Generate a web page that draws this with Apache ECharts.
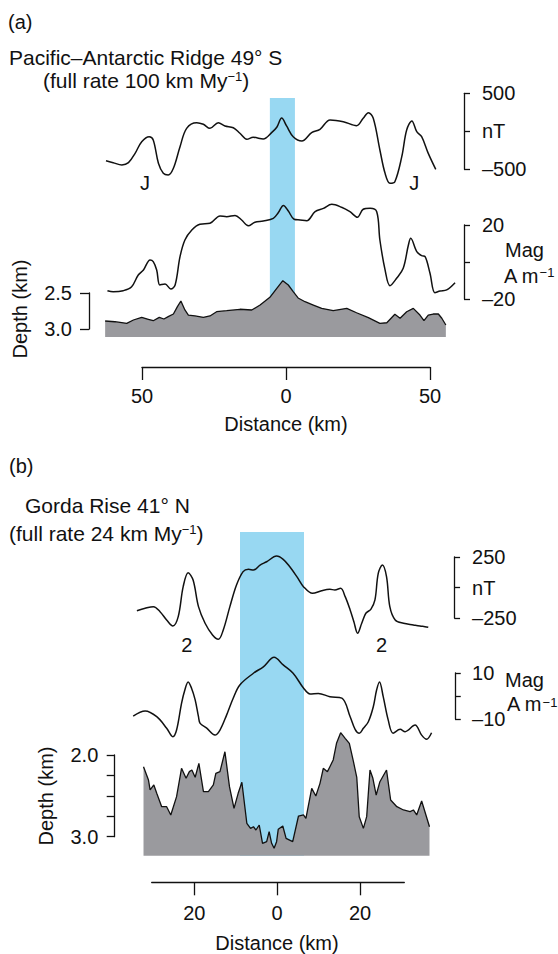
<!DOCTYPE html>
<html><head><meta charset="utf-8">
<script src="https://cdn.jsdelivr.net/npm/echarts@6/dist/echarts.min.js"></script>
<style>html,body{margin:0;padding:0;background:#fff}#c{width:558px;height:954px}</style>
</head><body><div id="c"></div>
<script>
// ---------- Panel (a) Pacific–Antarctic Ridge ----------
const aMagKm = [-62.5,-60.0,-57.0,-54.7,-52.4,-50.1,-47.5,-46.1,-44.3,-42.6,-40.9,-39.1,-36.8,-34.5,-31.0,-28.7,-26.4,-23.5,-21.2,-18.3,-16.0,-13.6,-11.4,-7.9,-5.0,-3.2,-1.5,0.2,2.5,5.5,8.9,11.8,15.3,19.9,24.5,26.8,28.6,30.3,32.6,34.4,36.1,37.8,40.2,41.9,43.7,45.4,47.1,49.4,52.0];
const aMagNT = [-387,-413,-443,-413,-290,-137,-71,-114,-421,-553,-575,-487,-203,39,113,92,39,113,70,47,-26,-105,-79,-101,-18,53,175,70,-71,-128,-18,26,149,126,74,171,245,171,-246,-553,-684,-663,-334,17,136,-5,-71,-290,-500];
const aMzKm = [-62.0,-60.0,-56.5,-53.6,-51.3,-49.5,-47.2,-46.1,-44.9,-43.8,-42.0,-40.0,-38.5,-36.8,-35.1,-32.7,-29.9,-26.4,-22.9,-20.6,-17.7,-15.4,-13.1,-10.8,-7.9,-4.4,-2.7,-0.9,0.8,2.8,4.9,7.2,10.1,13.0,15.9,19.3,22.2,24.8,26.8,29.2,31.5,32.6,34.4,36.1,38.4,40.7,42.5,43.3,45.4,47.1,48.3,50.0,51.7,53.5,55.8,58.7];
const aMzAm = [-15.5,-16.1,-15.5,-13.4,-7.0,-4.3,1.1,0.2,-4.3,-12.4,-11.9,-14.6,-12.4,2.9,11.9,17.3,20.4,20.9,24.9,24.5,25.2,22.7,19.6,21.5,22.2,23.6,26.6,30.6,27.6,23.1,22.7,22.3,27.2,29.0,31.2,29.6,27.2,24.2,28.5,29.0,27.2,11.9,-4.3,-12.8,-8.8,-3.4,9.2,12.8,5.6,3.4,2.9,-6.1,-16.6,-15.7,-15.1,-11.2];
const aBathKm = [-62.8,-59.4,-55.3,-53.0,-50.1,-47.8,-46.1,-44.0,-42.4,-40.9,-39.1,-37.7,-36.5,-35.1,-33.9,-31.6,-28.7,-26.4,-24.1,-20.6,-16.0,-11.9,-9.0,-5.6,-3.2,-1.1,0.8,2.5,4.2,6.6,9.5,12.4,16.4,21.1,24.5,28.6,32.6,35.0,37.8,39.6,41.9,44.2,46.5,47.9,49.4,51.1,52.9,54.1,55.5];
const aBathDepth = [2.889,2.899,2.921,2.875,2.838,2.865,2.885,2.838,2.861,2.829,2.792,2.690,2.611,2.736,2.806,2.819,2.838,2.819,2.760,2.746,2.726,2.736,2.667,2.560,2.435,2.329,2.389,2.482,2.569,2.621,2.667,2.713,2.746,2.713,2.774,2.843,2.921,2.913,2.796,2.851,2.760,2.713,2.806,2.885,2.806,2.792,2.792,2.851,2.944];
const aBand = [-5.6, 3.1];
const aAnomalyKm = [-49.0, 44.5];
const aAnomalyNT = [-680, -680];
const aAnomalyName = 'J';

// ---------- Panel (b) Gorda Rise ----------
const bMagKm = [-33.9,-31.9,-29.9,-28.3,-26.7,-25.2,-23.9,-22.7,-21.5,-20.3,-19.0,-17.4,-15.6,-14.2,-13.0,-11.4,-9.8,-8.2,-6.9,-5.7,-4.1,-2.5,-0.1,1.5,3.1,4.8,6.4,8.6,10.8,12.8,14.0,15.4,16.5,17.7,18.6,19.5,20.5,21.5,22.7,23.7,24.5,25.5,26.5,27.3,28.6,30.6,33.0,34.6,35.8,36.6];
const bMagNT = [-190,-170,-157,-198,-266,-316,-239,7,121,61,-157,-293,-389,-425,-348,-157,20,130,149,143,184,211,258,231,170,89,7,-48,-26,-15,-20,-7,-75,-184,-280,-375,-293,-211,-179,-102,116,184,89,-157,-266,-293,-307,-316,-321,-326];
const bMzKm = [-34.8,-31.9,-29.1,-26.7,-25.2,-24.3,-23.1,-22.3,-21.5,-20.7,-19.8,-19.0,-18.6,-17.0,-15.0,-13.8,-12.2,-10.6,-9.0,-5.7,-3.3,-0.7,1.5,3.9,6.4,8.0,10.0,12.8,15.7,17.7,18.9,19.9,20.9,22.1,23.3,24.1,24.8,25.7,26.9,28.1,29.8,31.0,33.4,35.0,36.2,37.4];
const bMzAm = [-8.7,-6.5,-9.0,-14.0,-17.7,-14.8,-3.2,2.6,6.1,3.5,-1.7,-9.0,-11.9,-14.0,-17.0,-14.8,-8.3,-1.0,4.8,9.9,12.7,16.8,13.5,9.9,3.5,0.9,1.1,-0.3,-0.9,-9.0,-14.5,-16.2,-14.0,-11.2,-4.7,2.6,6.1,-0.3,-10.4,-16.2,-14.5,-15.5,-12.6,-17.0,-18.8,-16.0];
const bBathKm = [-32.3,-31.1,-30.7,-29.8,-29.1,-27.9,-26.7,-25.7,-24.3,-23.1,-22.0,-21.2,-20.6,-19.8,-18.9,-17.8,-16.6,-15.4,-14.8,-13.8,-12.6,-11.5,-10.4,-9.4,-8.5,-7.3,-6.4,-5.7,-5.1,-4.3,-3.5,-2.5,-1.9,-1.3,-0.7,-0.1,0.3,1.4,2.2,3.8,5.2,6.4,7.0,8.4,9.4,10.4,11.2,12.2,12.8,13.6,14.4,15.4,16.5,17.5,18.5,19.3,19.9,20.9,21.7,22.5,23.2,24.0,24.9,26.5,27.5,29.0,30.6,32.2,33.0,33.8,35.0,36.9];
const bBathDepth = [2.143,2.306,2.428,2.367,2.469,2.633,2.633,2.734,2.510,2.163,2.285,2.204,2.184,2.273,2.102,2.449,2.449,2.367,2.224,2.204,1.960,2.388,2.653,2.469,2.334,2.836,2.898,2.878,2.918,2.857,3.081,3.061,2.939,3.081,3.142,3.061,2.910,2.869,3.020,3.061,2.747,2.734,2.775,2.408,2.502,2.347,2.163,2.204,2.143,2.061,1.857,1.727,1.796,1.857,2.082,2.273,2.755,2.898,2.755,2.184,2.285,2.490,2.327,2.184,2.551,2.633,2.673,2.694,2.673,2.734,2.563,2.878];
const bBand = [-8.95, 6.53];
const bAnomalyKm = [-21.8, 25.3];
const bAnomalyNT = [-471, -471];
const bAnomalyName = '2';

// ---------- Text ----------
const titleA = 'Pacific–Antarctic Ridge 49° S';
const rateA = '(full rate 100 km My';
const titleB = 'Gorda Rise 41° N';
const rateB = '(full rate 24 km My';
const xName = 'Distance (km)';
const depthName = 'Depth (km)';
const magUnit1 = 'Mag';
const magUnit2 = 'A m';

const FONT = '"Liberation Sans", Arial, Helvetica, sans-serif';
const INK = '#111';
const GRAY = '#9a9a9e';
const BLUE = '#98d8f2';
const zip = (a, b) => a.map((v, i) => [v, b[i]]);
const dash = v => (v < 0 ? '\u2013' + (-v) : String(v));

const G = (left, width, top, height) => ({left, width, top, height, containLabel: false, outerBoundsMode: 'none', show: false});
const grids = [
  G(104.56, 354.24, 93.3, 76),   // 0 a nT
  G(104.56, 354.24, 225, 74),    // 1 a Mag
  G(104.56, 354.24, 257, 80),    // 2 a bathymetry
  G(89, 10, 293, 36),            // 3 a depth bracket
  G(142, 288, 300, 67),          // 4 a distance axis
  G(104.56, 354.24, 98, 239),    // 5 a band
  G(132.35, 301.7, 557, 61),     // 6 b nT
  G(132.35, 301.7, 673, 46),     // 7 b Mag
  G(132.35, 301.7, 722.3, 133.4),// 8 b bathymetry
  G(114.3, 10, 755, 81.7),       // 9 b depth bracket
  G(151.7, 252.6, 800, 82.3),    // 10 b distance axis line
  G(194.3, 165.7, 800, 82.3),    // 11 b distance ticks
  G(132.35, 301.7, 532, 323.7)   // 12 b band
];

const line = {show: true, onZero: false, lineStyle: {color: INK, width: 1.3}};
const lab = (margin, extra) => Object.assign({show: true, margin, color: INK, fontSize: 20, fontFamily: FONT,
  showMinLabel: true, showMaxLabel: true, hideOverlap: false}, extra || {});
const hidX = (i, min, max) => ({type: 'value', gridIndex: i, min, max, show: false});
const hidY = (i, min, max, inverse) => ({type: 'value', gridIndex: i, min, max, inverse: !!inverse, show: false});

const xAxes = [
  hidX(0, -63, 60), hidX(1, -63, 60), hidX(2, -63, 60), hidX(3, 0, 1),
  {type: 'value', gridIndex: 4, min: -50, max: 50, interval: 50, position: 'bottom',
   axisLine: line, axisTick: {show: true, length: 13, lineStyle: {color: INK, width: 1.3}},
   axisLabel: lab(19, {formatter: v => String(Math.abs(v))}),
   splitLine: {show: false}},
  hidX(5, -63, 60),
  hidX(6, -35, 38), hidX(7, -35, 38), hidX(8, -35, 38), hidX(9, 0, 1),
  {type: 'value', gridIndex: 10, min: -30.3, max: 30.8, position: 'bottom',
   axisLine: line, axisTick: {show: false}, axisLabel: {show: false}, splitLine: {show: false}},
  {type: 'value', gridIndex: 11, min: -20, max: 20, interval: 20, position: 'bottom',
   axisLine: {show: false}, axisTick: {show: true, length: 13, lineStyle: {color: INK, width: 1.3}},
   axisLabel: lab(21, {formatter: v => String(Math.abs(v))}),
   splitLine: {show: false}},
  hidX(12, -35, 38)
];

const supRich = (pad, lh) => ({
  m: {fontSize: 20, fontFamily: FONT, color: INK, lineHeight: lh, padding: [0, 0, 0, pad]},
  n: {fontSize: 20, fontFamily: FONT, color: INK, lineHeight: lh},
  t: {fontSize: 21, fontFamily: FONT, color: INK, lineHeight: lh},
  s: {fontSize: 13, fontFamily: FONT, color: INK, lineHeight: 14, verticalAlign: 'top'}
});
const rightAxis = (i, min, max, interval, offset, tick, margin, zeroFmt, rich) => ({
  type: 'value', gridIndex: i, min, max, interval, position: 'right', offset,
  axisLine: line, axisTick: {show: true, length: tick, lineStyle: {color: INK, width: 1.3}},
  axisLabel: lab(margin, {formatter: v => (v === 0 ? zeroFmt : '{n|' + dash(v) + '}'), rich, align: 'left'}),
  splitLine: {show: false}
});

const yAxes = [
  rightAxis(0, -500, 500, 500, 5.2, 6, 18, '{n|nT}', supRich(0, 24)),
  rightAxis(1, -20, 20, 20, 5.2, 6, 18, '', supRich(0, 24)),
  hidY(2, 2.0, 3.1111, true),
  {type: 'value', gridIndex: 3, min: 2.5, max: 3.0, interval: 0.5, inverse: true, position: 'left',
   axisLine: line, axisTick: {show: true, length: 9, lineStyle: {color: INK, width: 1.3}},
   axisLabel: lab(17, {formatter: v => v.toFixed(1)}), splitLine: {show: false}},
  hidY(4, 0, 1), hidY(5, 0, 1),
  rightAxis(6, -250, 250, 250, 20.3, 5.7, 17.7, '{n|nT}', supRich(0, 24)),
  rightAxis(7, -10, 10, 10, 21, 5.7, 17, '', supRich(0, 20)),
  hidY(8, 1.6, 3.2327, true),
  {type: 'value', gridIndex: 9, min: 2.0, max: 3.0, interval: 0.25, inverse: true, position: 'left',
   axisLine: line, axisTick: {show: true, length: 7.6, lineStyle: {color: INK, width: 1.3}},
   axisLabel: lab(16, {formatter: v => (Math.abs(v - 2) < 1e-6 || Math.abs(v - 3) < 1e-6 ? v.toFixed(1) : '')}),
   splitLine: {show: false}},
  hidY(10, 0, 1), hidY(11, 0, 1), hidY(12, 0, 1)
];

const profile = (idx, data, smooth) => ({
  type: 'line', xAxisIndex: idx, yAxisIndex: idx, data, smooth, symbol: 'none', clip: false,
  lineStyle: {color: INK, width: 1.5}, z: 4, silent: true
});
const bath = (idx, data) => ({
  type: 'line', xAxisIndex: idx, yAxisIndex: idx, data, symbol: 'none', clip: false,
  lineStyle: {color: INK, width: 1.3}, areaStyle: {color: GRAY, opacity: 1, origin: 'end'}, z: 3, silent: true
});
const band = (idx, b) => ({
  type: 'line', xAxisIndex: idx, yAxisIndex: idx, data: [[b[0], 0], [b[1], 0]], symbol: 'none',
  lineStyle: {width: 0, opacity: 0}, z: 1, silent: true,
  markArea: {silent: true, itemStyle: {color: BLUE, opacity: 1}, label: {show: false},
    data: [[{coord: [b[0], 0]}, {coord: [b[1], 1]}]]}
});
const marks = (idx, km, vals, name) => ({
  type: 'scatter', xAxisIndex: idx, yAxisIndex: idx, data: zip(km, vals), symbolSize: 1, clip: false,
  itemStyle: {color: 'rgba(0,0,0,0)', opacity: 1}, z: 5, silent: true,
  label: {show: true, position: 'inside', formatter: name, fontSize: 20, fontFamily: FONT, color: INK, opacity: 1}
});

const series = [
  band(5, aBand),
  bath(2, zip(aBathKm, aBathDepth)),
  profile(0, zip(aMagKm, aMagNT), 0.35),
  profile(1, zip(aMzKm, aMzAm), 0.35),
  marks(0, aAnomalyKm, aAnomalyNT, aAnomalyName),
  band(12, bBand),
  bath(8, zip(bBathKm, bBathDepth)),
  profile(6, zip(bMagKm, bMagNT), 0.35),
  profile(7, zip(bMzKm, bMzAm), 0.35),
  marks(6, bAnomalyKm, bAnomalyNT, bAnomalyName)
];

const txt = (x, y, text, align, rotation, size, lh) => ({
  type: 'text', x, y, rotation: rotation || 0, silent: true,
  style: {text, fill: INK, fontSize: size || 20, fontFamily: FONT, align: align || 'left', verticalAlign: 'middle',
    lineHeight: lh || undefined}
});
const supTxt = (x, y, base, tail, tok, lh) => ({
  type: 'text', x, y, silent: true,
  style: {text: '{' + tok + '|' + base + '}{s|\u22121}{' + tok + '|' + tail + '}', rich: supRich(0, lh), fill: INK,
    fontSize: 20, fontFamily: FONT, align: 'left', verticalAlign: 'middle'}
});

const graphic = [
  txt(8, 22, '(a)'),
  txt(9, 57, titleA, 'left', 0, 21),
  supTxt(43, 80, rateA, ')', 't', 20),
  txt(286, 424, xName, 'center'),
  txt(20, 309, depthName, 'center', Math.PI / 2),
  txt(505, 250, magUnit1),
  supTxt(504, 276, magUnit2, '', 'n', 20),
  txt(9, 466, '(b)'),
  txt(25, 505, titleB, 'left', 0, 21),
  supTxt(9, 533, rateB, ')', 't', 20),
  txt(277, 943, xName, 'center'),
  txt(46, 796, depthName, 'center', Math.PI / 2),
  txt(505, 680, magUnit1, 'left', 0, 20, 18),
  supTxt(507, 704, magUnit2, '', 'n', 16)
];

const chart = echarts.init(document.getElementById('c'), null, {renderer: 'svg', width: 558, height: 954});
chart.setOption({
  animation: false,
  backgroundColor: '#fff',
  grid: grids,
  xAxis: xAxes,
  yAxis: yAxes,
  series,
  graphic
});
</script>
</body></html>
